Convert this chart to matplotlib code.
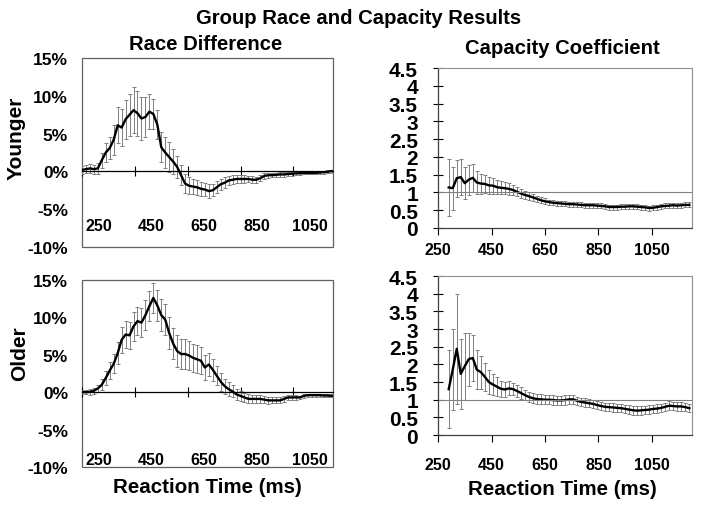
import numpy as np
import matplotlib
matplotlib.use("Agg")
import matplotlib.pyplot as plt
from matplotlib.patches import Rectangle

plt.rcParams['font.family'] = ['Liberation Sans', 'DejaVu Sans']
plt.rcParams['font.weight'] = 'bold'

# tiempos (ms)
t_race = np.arange(250, 1200, 15)
t_cap = np.arange(290, 1200, 15)

# diferencia de carrera (%), jovenes y mayores
young_race = [0.2, 0.3, 0.4, 0.3, 0.4, 1.5, 2.5, 3.1, 4.2, 6.1,
              5.8, 6.9, 7.5, 8.1, 7.7, 7.0, 7.2, 7.9, 7.6, 6.2,
              3.2, 2.5, 1.9, 1.3, 0.6, -0.5, -1.6, -1.9, -2.0, -2.1,
              -2.3, -2.4, -2.6, -2.5, -2.1, -1.7, -1.5, -1.2, -1.1, -1.0,
              -1.0, -1.0, -1.0, -1.1, -1.1, -0.9, -0.6, -0.5, -0.5, -0.45,
              -0.4, -0.4, -0.35, -0.3, -0.25, -0.25, -0.2, -0.2, -0.2, -0.2,
              -0.15, -0.1, -0.05, 0.05]
young_race_err = [0.5, 0.5, 0.6, 0.6, 0.7, 1.0, 1.3, 1.5, 2.0, 2.4,
                  2.4, 2.6, 2.8, 3.0, 3.0, 2.8, 2.6, 2.3, 2.0, 1.9,
                  2.0, 2.1, 2.0, 1.7, 1.5, 1.3, 1.2, 1.1, 1.0, 1.0,
                  0.9, 0.9, 0.9, 0.8, 0.8, 0.7, 0.7, 0.6, 0.6, 0.5,
                  0.5, 0.5, 0.45, 0.45, 0.4, 0.4, 0.35, 0.35, 0.3, 0.3,
                  0.3, 0.3, 0.25, 0.25, 0.25, 0.2, 0.2, 0.2, 0.2, 0.2,
                  0.2, 0.2, 0.2, 0.2]
old_race = [0.0, 0.0, 0.05, 0.2, 0.5, 1.0, 1.9, 2.9, 3.8, 5.2,
            7.0, 7.7, 7.6, 8.8, 9.5, 9.3, 10.3, 11.5, 12.6, 11.6,
            10.3, 9.7, 7.9, 6.5, 5.5, 5.1, 5.1, 4.9, 4.6, 4.4,
            4.2, 3.3, 3.7, 3.0, 2.2, 1.4, 0.8, 0.4, 0.1, -0.3,
            -0.5, -0.7, -0.9, -0.9, -0.9, -0.9, -1.0, -1.1, -1.1, -1.1,
            -1.1, -0.9, -0.7, -0.7, -0.7, -0.7, -0.5, -0.4, -0.4, -0.4,
            -0.4, -0.45, -0.45, -0.5]
old_race_err = [0.3, 0.3, 0.4, 0.4, 0.5, 0.7, 0.9, 1.1, 1.3, 1.5,
                1.7, 1.8, 1.8, 1.9, 1.9, 1.9, 2.0, 2.0, 2.0, 2.1,
                2.1, 2.1, 2.1, 2.1, 2.1, 2.0, 2.0, 2.0, 1.9, 1.9,
                1.8, 1.7, 1.6, 1.5, 1.3, 1.2, 1.0, 0.9, 0.8, 0.7,
                0.7, 0.6, 0.6, 0.55, 0.5, 0.5, 0.5, 0.45, 0.4, 0.4,
                0.4, 0.35, 0.3, 0.3, 0.3, 0.25, 0.25, 0.2, 0.2, 0.2,
                0.2, 0.2, 0.2, 0.2]

# coeficiente de capacidad
young_cap = [1.14, 1.12, 1.40, 1.43, 1.26, 1.36, 1.41, 1.28, 1.25, 1.24,
             1.20, 1.19, 1.15, 1.13, 1.12, 1.10, 1.07, 1.02, 0.97, 0.93,
             0.90, 0.86, 0.82, 0.78, 0.75, 0.73, 0.71, 0.70, 0.69, 0.68,
             0.67, 0.67, 0.66, 0.65, 0.64, 0.64, 0.64, 0.63, 0.62, 0.61,
             0.59, 0.59, 0.59, 0.60, 0.60, 0.61, 0.61, 0.60, 0.59, 0.58,
             0.56, 0.57, 0.59, 0.61, 0.62, 0.63, 0.64, 0.63, 0.64, 0.65,
             0.65]
young_cap_err = [0.8, 0.6, 0.52, 0.5, 0.45, 0.42, 0.4, 0.33, 0.28, 0.25,
                 0.23, 0.22, 0.2, 0.18, 0.17, 0.16, 0.15, 0.13, 0.12, 0.11,
                 0.1, 0.1, 0.09, 0.09, 0.08, 0.07, 0.07, 0.07, 0.07, 0.07,
                 0.07, 0.07, 0.07, 0.07, 0.07, 0.07, 0.07, 0.07, 0.07, 0.07,
                 0.07, 0.07, 0.07, 0.07, 0.07, 0.07, 0.07, 0.07, 0.07, 0.07,
                 0.07, 0.07, 0.07, 0.07, 0.07, 0.07, 0.07, 0.07, 0.07, 0.07,
                 0.07]
old_cap = [1.30, 1.85, 2.44, 1.73, 1.95, 2.15, 2.18, 1.85, 1.78, 1.65,
           1.50, 1.43, 1.37, 1.31, 1.29, 1.32, 1.30, 1.25, 1.19, 1.13,
           1.08, 1.04, 1.02, 1.01, 1.00, 1.00, 0.99, 0.98, 0.98, 0.99,
           1.01, 1.01, 0.97, 0.94, 0.92, 0.90, 0.88, 0.85, 0.82, 0.80,
           0.79, 0.78, 0.77, 0.76, 0.74, 0.72, 0.70, 0.69, 0.70, 0.71,
           0.72, 0.74, 0.75, 0.77, 0.80, 0.83, 0.82, 0.81, 0.81, 0.79,
           0.76]
old_cap_err = [1.1, 1.15, 1.55, 1.0, 0.95, 0.75, 0.65, 0.55, 0.47, 0.4,
               0.35, 0.3, 0.26, 0.22, 0.2, 0.2, 0.18, 0.17, 0.16, 0.15,
               0.15, 0.14, 0.14, 0.14, 0.13, 0.13, 0.13, 0.13, 0.13, 0.13,
               0.13, 0.12, 0.12, 0.12, 0.12, 0.12, 0.12, 0.12, 0.12, 0.12,
               0.12, 0.12, 0.12, 0.12, 0.12, 0.12, 0.12, 0.12, 0.12, 0.12,
               0.12, 0.12, 0.12, 0.12, 0.12, 0.12, 0.12, 0.12, 0.12, 0.12,
               0.12]

xticks = [250, 450, 650, 850, 1050]
race_yticks = [-10, -5, 0, 5, 10, 15]
cap_yticks = [0, 0.5, 1, 1.5, 2, 2.5, 3, 3.5, 4, 4.5]

err_gray = '#7f7f7f'
box_gray = '#606060'

fig = plt.figure(figsize=(7.04, 5.10), dpi=100)

ax_yr = fig.add_axes([0.1165, 0.5137, 0.3565, 0.3706])
ax_yc = fig.add_axes([0.6222, 0.551, 0.3608, 0.3137])
ax_or = fig.add_axes([0.1165, 0.0824, 0.3565, 0.3667])
ax_oc = fig.add_axes([0.6222, 0.145, 0.3608, 0.3118])


def race_panel(ax, t, v, e, label_y):
    ax.errorbar(t, v, yerr=e, fmt='none', ecolor=err_gray, elinewidth=0.7,
                capsize=1.6, capthick=0.7)
    ax.plot(t, v, color='black', lw=1.7)
    ax.set_xlim(250, 1200)
    ax.set_ylim(-10, 15)
    for s in ['top', 'right', 'left']:
        ax.spines[s].set_visible(False)
    ax.spines['bottom'].set_position(('data', 0))
    ax.spines['bottom'].set_linewidth(0.9)
    ax.add_patch(Rectangle((0, 0), 1, 1, transform=ax.transAxes, fill=False,
                           ec=box_gray, lw=0.9, clip_on=False))
    ax.set_xticks(xticks)
    ax.set_xticklabels([])
    ax.tick_params(axis='x', direction='inout', length=7, width=0.8)
    ax.set_yticks(race_yticks)
    ax.set_yticklabels([f"{v}%" for v in race_yticks], fontsize=12.5,
                       fontweight='bold')
    ax.tick_params(axis='y', length=0, pad=10)
    for x in xticks:
        ax.text(x + 62, label_y, str(x), ha='center', va='center',
                fontsize=11.5, fontweight='bold')


def cap_panel(ax, t, v, e):
    ax.errorbar(t, v, yerr=e, fmt='none', ecolor=err_gray, elinewidth=0.7,
                capsize=1.6, capthick=0.7)
    ax.plot(t, v, color='black', lw=1.7)
    ax.axhline(1, color='#808080', lw=0.8)
    ax.set_xlim(250, 1200)
    ax.set_ylim(0, 4.5)
    for s in ['top', 'right']:
        ax.spines[s].set_color('#909090')
        ax.spines[s].set_linewidth(0.8)
    for s in ['left', 'bottom']:
        ax.spines[s].set_color('#404040')
        ax.spines[s].set_linewidth(0.9)
    ax.set_xticks(xticks)
    ax.set_xticklabels([str(x) for x in xticks], fontsize=11.5,
                       fontweight='bold')
    ax.set_yticks(cap_yticks)
    ax.set_yticklabels([f"{v:g}" for v in cap_yticks], fontsize=15,
                       fontweight='bold')
    ax.tick_params(axis='y', direction='inout', length=7, width=0.8, pad=11)


race_panel(ax_yr, t_race, young_race, young_race_err, -7.1)
race_panel(ax_or, t_race, old_race, old_race_err, -8.95)
cap_panel(ax_yc, t_cap, young_cap, young_cap_err)
cap_panel(ax_oc, t_cap, old_cap, old_cap_err)
ax_yc.tick_params(axis='x', direction='out', length=5, width=0.8, pad=5)
ax_oc.tick_params(axis='x', direction='out', length=5, width=0.8, pad=11)

fig.text(0.51, 1 - 19 / 510, 'Group Race and Capacity Results', ha='center',
         va='center', fontsize=14.6, fontweight='bold')
fig.text(206 / 704, 1 - 45 / 510, 'Race Difference', ha='center',
         va='center', fontsize=14.6, fontweight='bold')
fig.text(562 / 704, 1 - 48 / 510, 'Capacity Coefficient', ha='center',
         va='center', fontsize=14.6, fontweight='bold')
fig.text(16 / 704, 1 - 138 / 510, 'Younger', ha='center', va='center',
         rotation=90, fontsize=15, fontweight='bold')
fig.text(20 / 704, 1 - 354 / 510, 'Older', ha='center', va='center',
         rotation=90, fontsize=15, fontweight='bold')
fig.text(207 / 704, 1 - 488 / 510, 'Reaction Time (ms)', ha='center',
         va='center', fontsize=14.8, fontweight='bold')
fig.text(562 / 704, 1 - 490 / 510, 'Reaction Time (ms)', ha='center',
         va='center', fontsize=14.8, fontweight='bold')

fig.savefig('out.png', dpi=100)
